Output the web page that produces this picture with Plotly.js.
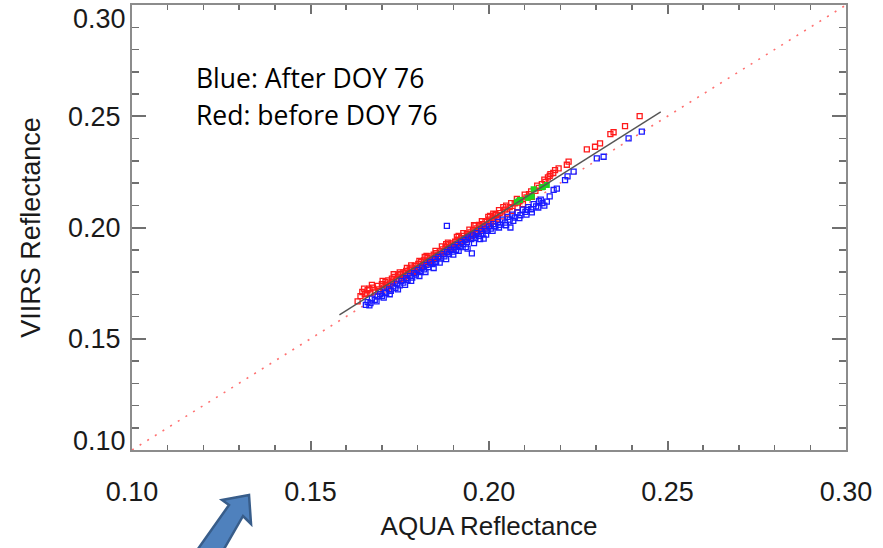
<!DOCTYPE html>
<html>
<head>
<meta charset="utf-8">
<script src="https://cdn.plot.ly/plotly-3.0.1.min.js"></script>
<style>
  html, body { margin: 0; padding: 0; background: #ffffff; }
  #chart { width: 883px; height: 548px; }
</style>
</head>
<body>
<div id="chart"></div>
<script>
// ---- Data ----
// Red: before DOY 76
var redX = [0.1632,0.1640,0.1645,0.1652,0.1657,0.1660,0.1665,0.1668,0.1675,0.1680,0.1688,0.1692,0.1700,0.1705,0.1710,0.1712,
            0.1718,0.1722,0.1728,0.1730,0.1735,0.1740,0.1745,0.1748,0.1752,0.1755,0.1760,0.1765,0.1768,0.1772,0.1778,0.1780,
            0.1785,0.1790,0.1792,0.1798,0.1802,0.1806,0.1810,0.1815,0.1818,0.1822,0.1828,0.1832,0.1836,0.1840,0.1845,0.1848,
            0.1852,0.1858,0.1862,0.1865,0.1870,0.1875,0.1878,0.1882,0.1888,0.1892,0.1895,0.1900,0.1905,0.1908,0.1912,0.1918,
            0.1922,0.1925,0.1930,0.1935,0.1938,0.1942,0.1948,0.1952,0.1955,0.1960,0.1965,0.1968,0.1972,0.1978,0.1982,0.1985,
            0.1990,0.1995,0.2000,0.2005,0.2010,0.2015,0.2020,0.2025,0.2030,0.2038,0.2045,0.2050,0.2058,0.2065,0.2072,0.2080,
            0.2088,0.2095,0.2105,0.2112,0.2120,0.2130,0.2140,0.2148,0.2158,0.2165,0.2172,0.2185,0.2195,0.2218,0.2223,0.2274,
            0.2297,0.2311,0.2340,0.2349,0.2381,0.2422,0.1770,0.1825,0.1880,0.1915,0.1958,0.2003,0.2040,0.2085,0.2018,0.1972,
            0.1650,0.1672,0.1690,0.1702,0.1715,0.1733,0.1750,0.1762,0.1782,0.1795,0.1805,0.1820,0.1838,0.1850,0.1868,0.1885,
            0.1898,0.1910,0.1928,0.1945,0.1962,0.1980,0.1998,0.2012,0.2028,0.2048,0.2062,0.2078,0.2100,0.2118,0.2135,0.2155,
            0.2170,0.2180];
var redY = [0.1668,0.1692,0.1710,0.1700,0.1704,0.1718,0.1725,0.1705,0.1730,0.1712,0.1738,0.1722,0.1745,0.1730,0.1755,0.1740,
            0.1762,0.1748,0.1770,0.1755,0.1778,0.1762,0.1785,0.1768,0.1790,0.1775,0.1798,0.1782,0.1805,0.1790,0.1812,0.1796,
            0.1820,0.1805,0.1828,0.1812,0.1836,0.1820,0.1845,0.1828,0.1852,0.1838,0.1862,0.1846,0.1870,0.1855,0.1878,0.1862,
            0.1885,0.1872,0.1894,0.1880,0.1902,0.1888,0.1912,0.1896,0.1920,0.1905,0.1928,0.1912,0.1936,0.1920,0.1945,0.1930,
            0.1952,0.1938,0.1962,0.1946,0.1970,0.1955,0.1978,0.1962,0.1988,0.1972,0.1996,0.1980,0.2005,0.1990,0.2015,0.2000,
            0.2025,0.2008,0.2035,0.2018,0.2045,0.2028,0.2055,0.2040,0.2065,0.2050,0.2080,0.2062,0.2092,0.2075,0.2108,0.2090,
            0.2122,0.2105,0.2135,0.2150,0.2138,0.2165,0.2178,0.2195,0.2205,0.2225,0.2240,0.2258,0.2266,0.2282,0.2296,0.2351,
            0.2363,0.2378,0.2420,0.2428,0.2456,0.2501,0.1818,0.1872,0.1925,0.1962,0.2010,0.2052,0.2092,0.2118,0.2060,0.2012,
            0.1725,0.1742,0.1712,0.1760,0.1728,0.1790,0.1798,0.1770,0.1830,0.1800,0.1850,0.1868,0.1840,0.1895,0.1915,0.1932,
            0.1905,0.1958,0.1975,0.1990,0.2010,0.2028,0.2048,0.2062,0.2078,0.2098,0.2110,0.2128,0.2148,0.2162,0.2188,0.2215,
            0.2232,0.2245];
// Blue: after DOY 76
var blueX = [0.1655,0.1660,0.1668,0.1672,0.1680,0.1688,0.1695,0.1700,0.1708,0.1712,0.1720,0.1725,0.1732,0.1738,0.1742,0.1750,
             0.1755,0.1760,0.1768,0.1772,0.1778,0.1785,0.1790,0.1795,0.1800,0.1808,0.1812,0.1818,0.1825,0.1830,0.1835,0.1842,
             0.1848,0.1852,0.1858,0.1865,0.1870,0.1875,0.1882,0.1882,0.1888,0.1892,0.1898,0.1902,0.1908,0.1912,0.1918,0.1922,
             0.1928,0.1932,0.1938,0.1942,0.1952,0.1950,0.1955,0.1962,0.1965,0.1972,0.1978,0.1982,0.1988,0.1995,0.2000,0.2005,
             0.2012,0.2018,0.2025,0.2030,0.2038,0.2045,0.2052,0.2058,0.2065,0.2072,0.2080,0.2088,0.2095,0.2102,0.2110,0.2118,
             0.2125,0.2132,0.2140,0.2150,0.2162,0.2181,0.2213,0.2237,0.2302,0.2321,0.2391,0.2428,0.1940,0.1985,0.2060,0.2106,
             0.1665,0.1685,0.1705,0.1722,0.1745,0.1765,0.1782,0.1805,0.1822,0.1845,0.1862,0.1880,0.1900,0.1915,0.1935,0.1958,
             0.1975,0.1992,0.2010,0.2028,0.2048,0.2068,0.2085,0.2105,0.2120,0.2138,0.2155,0.2145,0.2170,0.2190,0.2220];
var blueY = [0.1652,0.1665,0.1660,0.1680,0.1675,0.1690,0.1700,0.1692,0.1712,0.1705,0.1722,0.1715,0.1735,0.1728,0.1748,0.1740,
             0.1760,0.1752,0.1772,0.1765,0.1782,0.1775,0.1795,0.1788,0.1808,0.1800,0.1820,0.1812,0.1832,0.1822,0.1845,0.1835,
             0.1858,0.1846,0.1868,0.1860,0.1880,0.1870,0.1890,0.2007,0.1882,0.1900,0.1892,0.1912,0.1900,0.1922,0.1912,0.1935,
             0.1925,0.1945,0.1935,0.1955,0.1884,0.1948,0.1965,0.1955,0.1975,0.1962,0.1985,0.1972,0.1995,0.1985,0.2005,0.1995,
             0.2015,0.2005,0.2025,0.2012,0.2035,0.2022,0.2048,0.2035,0.2058,0.2045,0.2068,0.2055,0.2080,0.2070,0.2092,0.2082,
             0.2105,0.2095,0.2118,0.2110,0.2116,0.2169,0.2213,0.2251,0.2311,0.2318,0.2401,0.2431,0.1905,0.1950,0.2000,0.2079,
             0.1650,0.1668,0.1685,0.1700,0.1722,0.1742,0.1760,0.1782,0.1800,0.1818,0.1842,0.1858,0.1878,0.1895,0.1912,0.1930,
             0.1948,0.1968,0.1985,0.2000,0.2010,0.2030,0.2042,0.2058,0.2068,0.2090,0.2098,0.2125,0.2140,0.2175,0.2230];
// Green points
var greenX = [0.2078,0.2087,0.2109,0.2120,0.2125,0.2148,0.2151,0.2162];
var greenY = [0.2116,0.2124,0.2133,0.2139,0.2172,0.2181,0.2182,0.2191];
// Regression line and 1:1 line
var fitX = [0.1581, 0.2481];
var fitY = [0.1607, 0.2520];
var oneX = [0.10, 0.30];
var oneY = [0.10, 0.30];
// Axis ticks
var tickVals = [0.10, 0.15, 0.20, 0.25, 0.30];
var tickText = ["0.10", "0.15", "0.20", "0.25", "0.30"];

// ---- Plot ----
var traces = [
  { x: oneX, y: oneY, type: 'scatter', mode: 'lines', hoverinfo: 'skip',
    line: { color: '#ff7070', width: 1.6, dash: '2px,7px' } },
  { x: redX, y: redY, type: 'scatter', mode: 'markers', name: 'before DOY 76',
    marker: { symbol: 'square-open', size: 5, color: '#ff1a1a', line: { width: 1.3 } } },
  { x: blueX, y: blueY, type: 'scatter', mode: 'markers', name: 'after DOY 76',
    marker: { symbol: 'square-open', size: 5, color: '#1a1aff', line: { width: 1.3 } } },
  { x: greenX, y: greenY, type: 'scatter', mode: 'markers', name: 'green',
    marker: { symbol: 'square', size: 6, color: '#1ed41e' } },
  { x: fitX, y: fitY, type: 'scatter', mode: 'lines', hoverinfo: 'skip',
    line: { color: '#555555', width: 1.4 } }
];

function px2x(p) { return (p - 132) / 714; }
function py2y(p) { return (450 - p) / 445; }
var arrowPts = [[193,556],[229,505],[222,500],[249,495],[251,524],[243,516],[220,556]];
var arrowPath = arrowPts.map(function (pt, i) {
  return (i === 0 ? 'M' : 'L') + px2x(pt[0]).toFixed(4) + ',' + py2y(pt[1]).toFixed(4);
}).join(' ') + ' Z';

var labelFont = { family: 'Liberation Sans, Arial, sans-serif', size: 27, color: '#1a1a1a' };
var axisCommon = {
  range: [0.10, 0.30],
  tickmode: 'linear',
  tick0: tickVals[0],
  dtick: tickVals[1] - tickVals[0],
  tickformat: '.2f',
  ticks: 'inside',
  tickwidth: 2,
  tickcolor: '#707070',
  showline: true,
  linecolor: '#8c8c8c',
  linewidth: 2,
  mirror: 'ticks',
  showgrid: false,
  zeroline: false,
  ticklabeloverflow: 'allow',
  tickfont: labelFont
};

var layout = {
  width: 883,
  height: 548,
  margin: { l: 132, r: 37, t: 5, b: 98, pad: 0 },
  paper_bgcolor: '#ffffff',
  plot_bgcolor: '#ffffff',
  showlegend: false,
  xaxis: Object.assign({}, axisCommon, {
    ticklen: 9,
    minor: { dtick: 0.01, tick0: 0.10, ticks: 'inside', ticklen: 5, tickwidth: 1.5, tickcolor: '#707070' },
    ticklabelstandoff: 17,
    title: { text: 'AQUA Reflectance', standoff: 10,
             font: { family: 'Liberation Sans, Arial, sans-serif', size: 26, color: '#1a1a1a' } }
  }),
  yaxis: Object.assign({}, axisCommon, {
    ticklen: 14,
    minor: { dtick: 0.01, tick0: 0.10, ticks: 'inside', ticklen: 7, tickwidth: 1.5, tickcolor: '#707070' },
    ticklabelstandoff: 4,
    labelalias: { '0.30': ' ', '0.10': ' ' },
    title: { text: 'VIIRS Reflectance', standoff: 20,
             font: { family: 'Liberation Sans, Arial, sans-serif', size: 27, color: '#1a1a1a' } }
  }),
  annotations: [
    { xref: 'paper', yref: 'paper', x: px2x(194), y: py2y(78), xanchor: 'left', yanchor: 'middle',
      text: 'Blue: After DOY 76', showarrow: false,
      font: { family: 'Open Sans, Noto Sans, sans-serif', size: 26.5, color: '#000000' } },
    { xref: 'paper', yref: 'paper', x: px2x(194), y: py2y(115), xanchor: 'left', yanchor: 'middle',
      text: 'Red: before DOY 76', showarrow: false,
      font: { family: 'Open Sans, Noto Sans, sans-serif', size: 26.5, color: '#000000' } },
    // end labels of the y axis, nudged inside the frame as in the original
    { xref: 'paper', yref: 'y', x: 0, y: tickVals[4], yshift: -14, xshift: -4, xanchor: 'right', yanchor: 'middle',
      text: tickText[4], showarrow: false, font: labelFont },
    { xref: 'paper', yref: 'y', x: 0, y: tickVals[0], yshift: 9, xshift: -4, xanchor: 'right', yanchor: 'middle',
      text: tickText[0], showarrow: false, font: labelFont }
  ],
  shapes: [
    { type: 'path', xref: 'paper', yref: 'paper', path: arrowPath,
      fillcolor: '#4f81bd', line: { color: '#385d8a', width: 2.5 }, layer: 'above' }
  ]
};

Plotly.newPlot('chart', traces, layout, { displayModeBar: false, staticPlot: true });
</script>
</body>
</html>
